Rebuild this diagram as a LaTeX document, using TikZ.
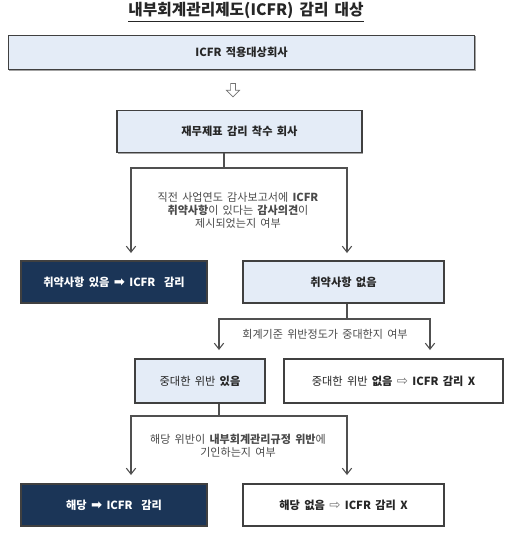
\documentclass[tikz,border=0pt]{standalone}
\usepackage{fontspec}
\setmainfont[WordSpace=1.7]{Noto Sans CJK KR}
\newfontfamily\symfont{DejaVu Sans}
\usepackage{xcolor}
\usetikzlibrary{arrows.meta,positioning,shapes.arrows,shadows,calc}
\definecolor{navy}{HTML}{1B3557}
\definecolor{paleblue}{HTML}{E4ECF7}
\definecolor{linegray}{HTML}{505050}
\definecolor{textgray}{HTML}{4A4A4A}
\newcommand{\heavyarr}{{\symfont\fontsize{10}{10}\selectfont ➡}}
\newcommand{\hollowarr}{{\symfont\mdseries\fontsize{10}{10}\selectfont\color{black!55}⇨}}

\begin{document}
\begin{tikzpicture}[x=0.75pt,y=-0.75pt,>={Straight Barb[length=4.5pt,width=7pt]},
  box/.style={draw=black!75,line width=0.8pt,inner sep=0pt,
    font=\fontsize{8.4}{10}\selectfont,text=black!85,
    drop shadow={shadow xshift=0.6pt,shadow yshift=-0.6pt,opacity=0.6,fill=black!60}},
  pale/.style={box,fill=paleblue},
  plain/.style={box,fill=white},
  dark/.style={box,fill=navy,text=white},
  link/.style={linegray,line width=0.8pt},
  ask/.style={align=center,text=textgray,font=\fontsize{8.3}{9.8}\selectfont}]
  \useasboundingbox (0,0) rectangle (512,536);
  % title
  \node[font=\fontsize{11.8}{14}\selectfont\bfseries,text=black!85] (title) at (246,12)
    {\underline{내부회계관리제도(ICFR) 감리 대상}};
  % boxes
  \node[pale,minimum width=350pt,minimum height=26pt] (icfr) at (241.5,52.5)
    {\bfseries ICFR 적용대상회사};
  \node[single arrow,draw=black!55,fill=white,line width=0.5pt,shape border rotate=270,
    minimum height=10pt,minimum width=10pt,single arrow head extend=2.2pt,inner sep=1pt]
    (down) at (233,89) {};
  \node[pale,minimum width=183.75pt,minimum height=32pt] (audit) at (239.5,131.5)
    {\bfseries 재무제표 감리 착수 회사};
  \node[dark,minimum width=139.5pt,minimum height=31.5pt] (weakyes) at (114,282)
    {\bfseries 취약사항 있음 \heavyarr{} ICFR\ \ 감리};
  \node[pale,minimum width=150.75pt,minimum height=31.5pt] (weakno) at (343.5,282)
    {\bfseries 취약사항 없음};
  \node[pale,minimum width=97.5pt,minimum height=33pt] (major) at (200,381)
    {중대한 위반 \textbf{있음}};
  \node[plain,minimum width=164.25pt,minimum height=33pt] (minor) at (393.5,381)
    {중대한 위반 \textbf{없음 \hollowarr{} ICFR 감리 X}};
  \node[dark,minimum width=139.5pt,minimum height=31.5pt] (cause) at (114,505)
    {\bfseries 해당 \heavyarr{} ICFR\ \ 감리};
  \node[plain,minimum width=150.75pt,minimum height=31.5pt] (nocause) at (343.5,505)
    {\bfseries 해당 없음 \hollowarr{} ICFR 감리 X};
  % questions
  \node[ask] (q1) at (238,210)
    {직전 사업연도 감사보고서에 \textbf{ICFR}\\\textbf{취약사항}이 있다는 \textbf{감사의견}이\\제시되었는지 여부};
  \node[ask] (q2) at (325,334) {회계기준 위반정도가 중대한지 여부};
  \node[ask] (q3) at (238,446)
    {해당 위반이 \textbf{내부회계관리규정 위반}에\\기인하는지 여부};
  % branches
  \coordinate (s1) at (224,168);
  \coordinate (e1a) at (131,253);
  \coordinate (e1b) at (347,253);
  \draw[link] (s1 |- audit.south) -- (s1);
  \draw[link,->] (s1) -| (e1a);
  \draw[link,->] (s1) -| (e1b);
  \coordinate (s2) at (347,319);
  \coordinate (e2a) at (219,350);
  \coordinate (e2b) at (430,350);
  \draw[link] (s2 |- weakno.south) -- (s2);
  \draw[link,->] (s2) -| (e2a);
  \draw[link,->] (s2) -| (e2b);
  \coordinate (s3) at (219,416);
  \coordinate (e3a) at (131,475);
  \coordinate (e3b) at (347,475);
  \draw[link] (s3 |- major.south) -- (s3);
  \draw[link,->] (s3) -| (e3a);
  \draw[link,->] (s3) -| (e3b);
\end{tikzpicture}
\end{document}
